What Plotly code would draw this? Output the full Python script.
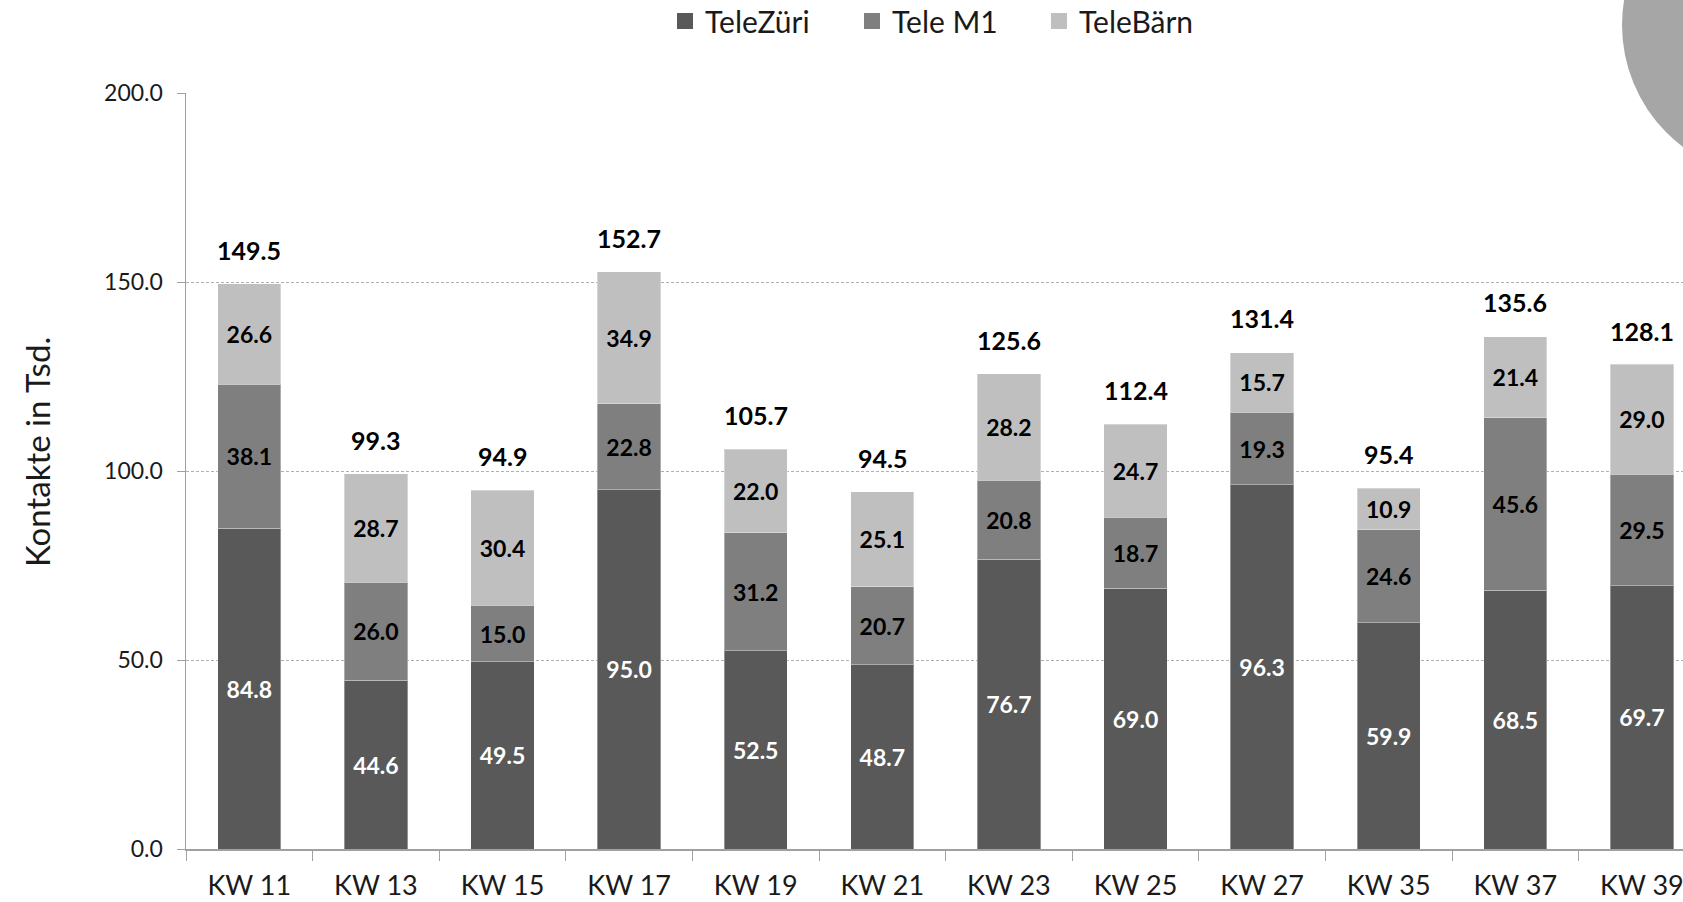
import plotly.graph_objects as go

categories = ["KW 11", "KW 13", "KW 15", "KW 17", "KW 19", "KW 21",
              "KW 23", "KW 25", "KW 27", "KW 35", "KW 37", "KW 39"]
telezueri = [84.8, 44.6, 49.5, 95.0, 52.5, 48.7, 76.7, 69.0, 96.3, 59.9, 68.5, 69.7]
tele_m1 = [38.1, 26.0, 15.0, 22.8, 31.2, 20.7, 20.8, 18.7, 19.3, 24.6, 45.6, 29.5]
telebaern = [26.6, 28.7, 30.4, 34.9, 22.0, 25.1, 28.2, 24.7, 15.7, 10.9, 21.4, 29.0]
totals = [149.5, 99.3, 94.9, 152.7, 105.7, 94.5, 125.6, 112.4, 131.4, 95.4, 135.6, 128.1]
y_ticks = [0, 50, 100, 150, 200]

W, H = 1683, 902
L, R, T, B = 186, 0, 93, 53
PW, PH = W - L - R, H - T - B
FONT = "Lato"
TXT = "#1a1a1a"

fig = go.Figure()
series = [
    ("TeleZüri", telezueri, "#595959", "white"),
    ("Tele M1", tele_m1, "#7f7f7f", "black"),
    ("TeleBärn", telebaern, "#bfbfbf", "black"),
]
for name, vals, col, tcol in series:
    fig.add_trace(go.Bar(
        name=name, x=categories, y=vals, width=0.5, showlegend=False,
        marker=dict(color=col, line=dict(color="rgba(255,255,255,0.35)", width=1)),
        text=[f"{v:.1f}" for v in vals], textposition="inside",
        insidetextanchor="middle", textangle=0,
        textfont=dict(family=FONT, size=23, color=tcol, weight="bold"),
        constraintext="none", hoverinfo="skip",
    ))
# legend entries (square symbols)
for name, vals, col, tcol in series:
    fig.add_trace(go.Scatter(
        name=name, x=[None], y=[None], mode="markers",
        marker=dict(symbol="square", size=17, color=col), showlegend=True,
    ))

for c, t in zip(categories, totals):
    fig.add_annotation(x=c, y=t, text=f"<b>{t:.1f}</b>", showarrow=False,
                       yanchor="middle", yshift=34,
                       font=dict(family=FONT, size=25, color="black"))

# y axis title as annotation
fig.add_annotation(xref="paper", yref="paper",
                   x=(37 - L) / PW, y=(H - B - 452) / PH,
                   text="Kontakte in Tsd.", textangle=-90, showarrow=False,
                   xanchor="center", yanchor="middle",
                   font=dict(family=FONT, size=33, color=TXT))

# decorative circle at top right
cx, cy, r = 1774.5, 25, 152.5
fig.add_shape(type="circle", xref="paper", yref="paper",
              x0=(cx - r - L) / PW, x1=(cx + r - L) / PW,
              y0=(H - B - (cy + r)) / PH, y1=(H - B - (cy - r)) / PH,
              fillcolor="#a6a6a6", line=dict(width=0), layer="above")

fig.update_layout(
    barmode="stack", width=W, height=H, autosize=False,
    margin=dict(l=L, r=R, t=T, b=B, pad=0, autoexpand=False),
    plot_bgcolor="white", paper_bgcolor="white",
    font=dict(family=FONT, color=TXT),
    legend=dict(orientation="h", x=(665 - L) / PW, xanchor="left",
                y=(H - B + 5) / PH, yanchor="top", yref="paper",
                font=dict(family=FONT, size=30, color=TXT),
                traceorder="normal", itemwidth=30, entrywidth=142, itemclick=False,
                borderwidth=0),
    showlegend=True,
    hovermode=False,
)
fig.update_xaxes(range=[-0.5, -0.5 + PW / 126.6], showline=True,
                 linecolor="#a0a0a0", linewidth=1.5,
                 ticks="outside", tickson="boundaries", ticklen=10, tickcolor="#a0a0a0",
                 ticklabelstandoff=12, automargin=False,
                 tickfont=dict(family=FONT, size=27, color=TXT), showgrid=False)
fig.update_yaxes(range=[0, 200], tickvals=y_ticks,
                 ticktext=[f"{v:.1f}" for v in y_ticks],
                 showline=True, linecolor="#a0a0a0", linewidth=1.5,
                 ticks="outside", ticklen=8, tickcolor="#a0a0a0",
                 ticklabelstandoff=9, automargin=False,
                 tickfont=dict(family=FONT, size=23, color=TXT),
                 showgrid=True, gridcolor="#b0b0b0", griddash="3px,2px", gridwidth=1,
                 zeroline=False)

fig.write_html("out.html", config={"displayModeBar": False, "staticPlot": True},
               post_script="document.body.style.margin='0';document.body.style.overflow='hidden';")
